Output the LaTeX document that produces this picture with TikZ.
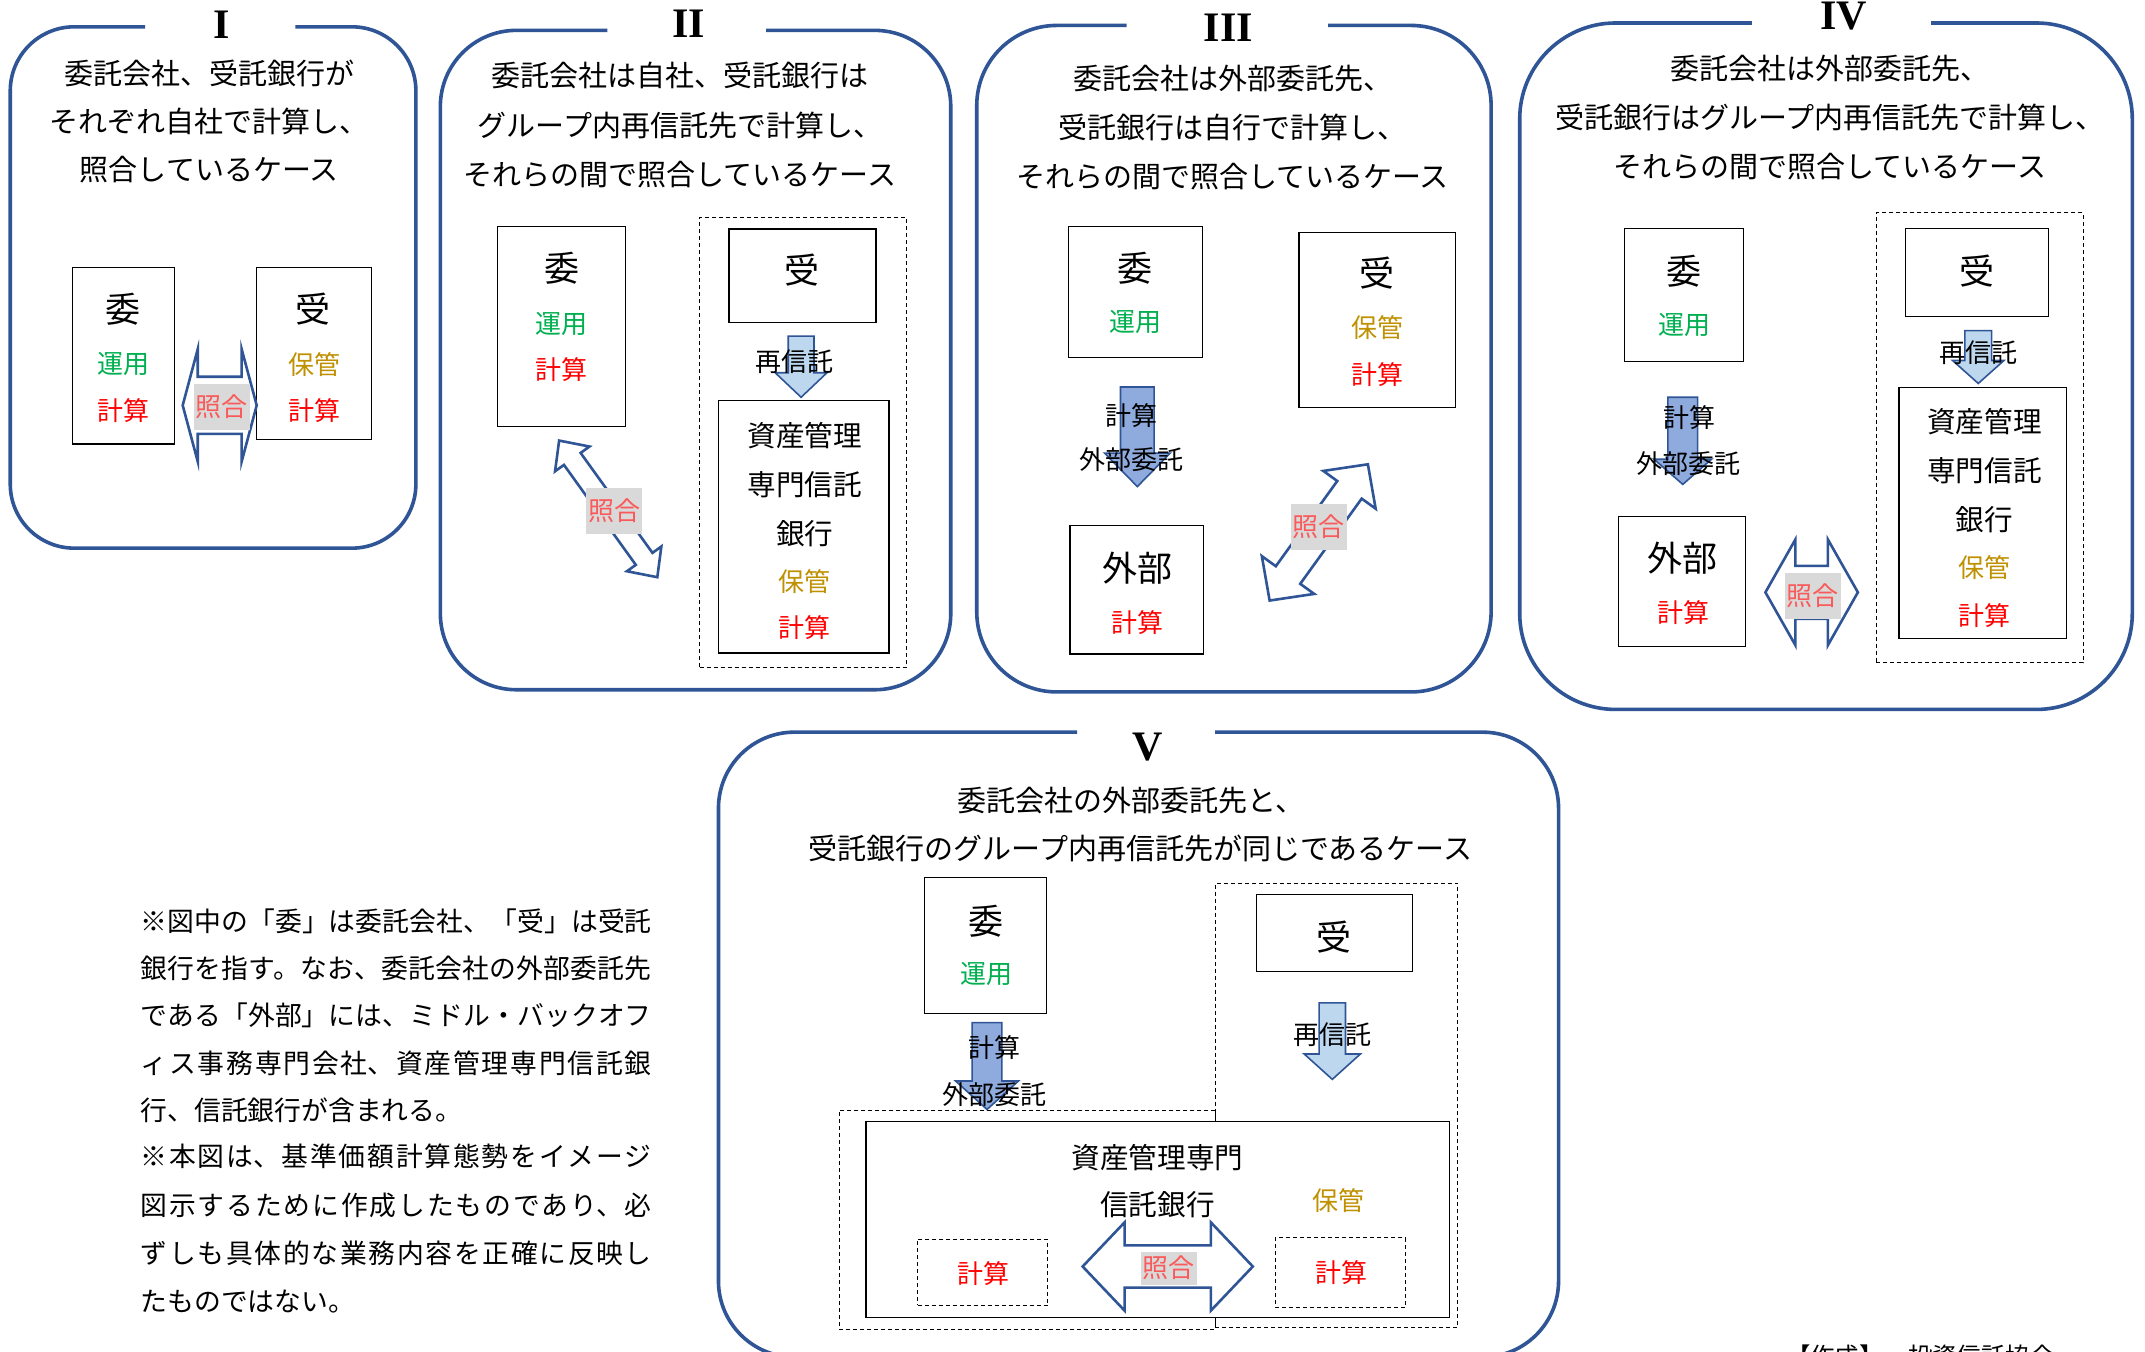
\documentclass[tikz,border=0pt]{standalone}
\usepackage{fontspec}
\setmainfont{Noto Sans CJK JP}
\newfontfamily\rom{Liberation Serif}
\usetikzlibrary{fit}
\definecolor{pblue}{RGB}{47,85,151}
\definecolor{mblue}{RGB}{143,170,220}
\definecolor{lblue}{RGB}{189,215,238}
\definecolor{cgreen}{RGB}{0,176,80}
\definecolor{cgold}{RGB}{191,144,0}
\definecolor{cred}{RGB}{255,0,0}
\definecolor{cpink}{RGB}{250,90,90}
\definecolor{cgray}{RGB}{217,217,217}
\newcommand{\dblarr}[8]{%
 \begin{scope}[shift={(#2,#3)},rotate=#4]
 \draw[dbl] (-#5,0) -- (-#5+#8,-#7) -- (-#5+#8,-#6) -- (#5-#8,-#6) -- (#5-#8,-#7) -- (#5,0) -- (#5-#8,#7) -- (#5-#8,#6) -- (-#5+#8,#6) -- (-#5+#8,#7) -- cycle;
 \coordinate (#1) at (0,0);
 \end{scope}}
\newcommand{\downarr}[8]{%
 \draw[darr, fill=#8] (#2-#6,#3) -- (#2+#6,#3) -- (#2+#6,#4) -- (#2+#7,#4) -- (#2,#5) -- (#2-#7,#4) -- (#2-#6,#4) -- cycle;
 \coordinate (#1) at (#2,#3);}
\newcommand{\notej}[1]{\parbox{255.6pt}{\XeTeXlinebreaklocale "ja"\XeTeXlinebreakskip=0pt plus 3pt\relax\parfillskip=0pt #1}}
\begin{document}
\begin{tikzpicture}[x=0.684pt,y=-0.684pt,
 panelline/.style={draw=pblue, line width=1.8pt},
 ttl/.style={font=\rom\bfseries\fontsize{21}{21}\selectfont, anchor=base, inner sep=0pt},
 desc/.style={font=\fontsize{14.5}{14.5}\selectfont, inner sep=0pt},
 bigc/.style={font=\fontsize{17.5}{17.5}\selectfont, inner sep=0pt},
 serifbox/.style={font=\fontsize{14.3}{14.3}\selectfont, inner sep=0pt},
 lab/.style={font=\fontsize{13}{13}\selectfont, inner sep=0pt},
 unyo/.style={lab, text=cgreen},
 keisan/.style={lab, text=cred},
 hokan/.style={lab, text=cgold},
 blk/.style={lab, text=black},
 box/.style={draw=black, line width=0.6pt, inner sep=0pt},
 dbox/.style={draw=black, line width=0.5pt, dash pattern=on 2pt off 1.5pt, inner sep=0pt},
 shogo/.style={font=\fontsize{13}{13}\selectfont, text=cpink, fill=cgray, inner xsep=1pt, inner ysep=0pt, minimum height=23pt},
 dbl/.style={draw=pblue, line width=1.3pt, fill=white, line join=miter},
 darr/.style={draw=pblue, line width=0.8pt},
 note/.style={font=\fontsize{13.4}{16}\selectfont, inner sep=0pt, anchor=west}
]
\fill[white] (0,0) rectangle (1568,988);
\useasboundingbox (0,0) rectangle (1568,988);

% ---------------- Panel I ----------------
\draw[panelline, rounded corners=32pt] (216,19.6) -- (304,19.6) -- (304,400.7) -- (7.5,400.7) -- (7.5,19.6) -- (106,19.6);
\node[ttl] (t1) at (162,28.2) {I};
\node[desc] (d1a) at (153,53.5) {委託会社、受託銀行が};
\node[desc] (d1b) at (153,88.8) {それぞれ自社で計算し、};
\node[desc] (d1c) at (153,124) {照合しているケース};
\node[box, fit={(53.1,195.8) (127.4,324.5)}] (b1i) {};
\node[bigc] (b1ic) at (90.1,225.8) {委};
\node[unyo] (b1iu) at (90.1,266.3) {運用};
\node[keisan] (b1ik) at (90.1,300.2) {計算};
\node[box, fit={(187.6,195.8) (271.7,321.1)}] (b1j) {};
\node[bigc] (b1jc) at (229,225.8) {受};
\node[hokan] (b1jh) at (229.6,266.3) {保管};
\node[keisan] (b1jk) at (230,300.2) {計算};
\dblarr{a1}{160.6}{296.3}{0}{27.05}{20.9}{41.1}{11}
\node[shogo] (s1) at (162,297.6) {照合};

% ---------------- Panel II ----------------
\draw[panelline, rounded corners=38pt] (560,22.2) -- (695,22.2) -- (695,504.2) -- (321.9,504.2) -- (321.9,22.2) -- (444,22.2);
\node[ttl] (t2) at (503.2,27.7) {II};
\node[desc] (d2a) at (497,55.5) {委託会社は自社、受託銀行は};
\node[desc] (d2b) at (497,91.4) {グループ内再信託先で計算し、};
\node[desc] (d2c) at (497,127.3) {それらの間で照合しているケース};
\node[box, fit={(363.7,165.8) (457.3,311.6)}] (b2i) {};
\node[bigc] (b2ic) at (410.8,195.8) {委};
\node[unyo] (b2iu) at (410.8,236.6) {運用};
\node[keisan] (b2ik) at (410.8,270.2) {計算};
\node[dbox, fit={(511.5,158.9) (662.5,487.9)}] (g2) {};
\node[box, fit={(532.9,167.4) (640.4,235.6)}] (b2j) {};
\node[bigc] (b2jc) at (586.3,197.4) {受};
\downarr{r2}{585.6}{245.7}{272.5}{290.4}{9.4}{18.9}{lblue}
\node[blk] (r2t) at (580.7,264.3) {再信託};
\node[box, fit={(525.3,292.7) (649.9,477.4)}] (b2s) {};
\node[serifbox] (b2s1) at (588.2,318.2) {資産管理};
\node[serifbox] (b2s2) at (588.2,354) {専門信託};
\node[serifbox] (b2s3) at (588.2,390) {銀行};
\node[hokan] (b2sh) at (588.2,425.2) {保管};
\node[keisan] (b2sk) at (588.2,458.5) {計算};
\dblarr{a2}{444.6}{372}{-54.3}{61.5}{7.5}{15.5}{16.5}
\node[shogo] (s2) at (449,373.6) {照合};

% ---------------- Panel III ----------------
\draw[panelline, rounded corners=40pt] (970.9,18.6) -- (1090,18.6) -- (1090,505.8) -- (714,505.8) -- (714,18.6) -- (823.6,18.6);
\node[ttl] (t3) at (897.9,30) {III};
\node[desc] (d3a) at (901,57.1) {委託会社は外部委託先、};
\node[desc] (d3b) at (901,93) {受託銀行は自行で計算し、};
\node[desc] (d3c) at (901,128.9) {それらの間で照合しているケース};
\node[box, fit={(780.9,165.4) (879.2,261.1)}] (b3i) {};
\node[bigc] (b3ic) at (829.9,195.8) {委};
\node[unyo] (b3iu) at (829.9,235.6) {運用};
\downarr{k3}{831.4}{282.9}{331.2}{355.7}{12.3}{24}{mblue}
\node[blk] (k3a) at (827.4,303.5) {計算};
\node[blk] (k3b) at (827.4,336.1) {外部委託};
\node[box, fit={(782.1,384.1) (879.5,478.1)}] (b3g) {};
\node[bigc] (b3gc) at (831.2,415.1) {外部};
\node[keisan] (b3gk) at (831.7,455.2) {計算};
\node[box, fit={(949.5,169.7) (1064,297.6)}] (b3j) {};
\node[bigc] (b3jc) at (1006.9,199.7) {受};
\node[hokan] (b3jh) at (1006.9,239.8) {保管};
\node[keisan] (b3jk) at (1006.9,274.1) {計算};
\dblarr{a3}{964}{389.2}{54.2}{61.4}{11}{23.6}{23}
\node[shogo] (s3) at (964.1,385.1) {照合};

% ---------------- Panel IV ----------------
\draw[panelline, rounded corners=48pt] (1411.6,16.8) -- (1558.7,16.8) -- (1558.7,518.6) -- (1110.9,518.6) -- (1110.9,16.8) -- (1280.6,16.8);
\node[ttl] (t4) at (1347.6,21.8) {IV};
\node[desc] (d4a) at (1337.5,50.4) {委託会社は外部委託先、};
\node[desc] (d4b) at (1337.5,85.6) {受託銀行はグループ内再信託先で計算し、};
\node[desc] (d4c) at (1337.5,121.5) {それらの間で照合しているケース};
\node[box, fit={(1187.3,167.2) (1274.5,264.5)}] (b4i) {};
\node[bigc] (b4ic) at (1231.2,198) {委};
\node[unyo] (b4iu) at (1231.2,237.3) {運用};
\downarr{k4}{1230.1}{290.4}{335.7}{354.1}{10.9}{21}{mblue}
\node[blk] (k4a) at (1234.8,305.5) {計算};
\node[blk] (k4b) at (1234.2,339) {外部委託};
\node[box, fit={(1183.1,377.6) (1276,472.3)}] (b4g) {};
\node[bigc] (b4gc) at (1229.8,407.8) {外部};
\node[keisan] (b4gk) at (1230.9,448.1) {計算};
\dblarr{a4}{1324.3}{433}{0}{33.8}{19.3}{38.6}{21.9}
\node[shogo] (s4) at (1325.1,435.7) {照合};
\node[dbox, fit={(1371.6,155.4) (1522.9,484.4)}] (g4) {};
\node[box, fit={(1392.7,167.2) (1497.4,231.6)}] (b4j) {};
\node[bigc] (b4jc) at (1445.3,198) {受};
\downarr{r4}{1446.1}{241.7}{263.5}{280.3}{9.8}{18.8}{lblue}
\node[blk] (r4t) at (1445.9,257.8) {再信託};
\node[box, fit={(1388.2,283) (1510.6,466.6)}] (b4s) {};
\node[serifbox] (b4s1) at (1450.7,308.1) {資産管理};
\node[serifbox] (b4s2) at (1450.7,344.1) {専門信託};
\node[serifbox] (b4s3) at (1450.7,380) {銀行};
\node[hokan] (b4sh) at (1450.7,414.6) {保管};
\node[keisan] (b4sk) at (1450.7,449.8) {計算};

% ---------------- Panel V ----------------
\draw[panelline, rounded corners=38pt] (888.3,535.2) -- (1139.3,535.2) -- (1139.3,992) -- (525.2,992) -- (525.2,535.2) -- (787.4,535.2);
\node[ttl] (t5) at (838.7,555.7) {V};
\node[desc] (d5a) at (826.5,585.1) {委託会社の外部委託先と、};
\node[desc] (d5b) at (833.8,620.5) {受託銀行のグループ内再信託先が同じであるケース};
\node[box, fit={(675.8,641.6) (765.2,741.1)}] (b5i) {};
\node[bigc] (b5ic) at (720.9,673.4) {委};
\node[unyo] (b5iu) at (720.9,712.2) {運用};
\node[dbox, fit={(613.5,811.6) (888.3,971.9)}] (g5a) {};
\node[dbox, fit={(888.3,645.5) (1065.5,970.5)}] (g5b) {};
\downarr{k5}{721.5}{747.5}{790.2}{811}{10.85}{23}{mblue}
\node[blk] (k5a) at (727,766.1) {計算};
\node[blk] (k5b) at (727,799.9) {外部委託};
\node[box, fit={(918.6,653.7) (1032.7,710.2)}] (b5j) {};
\node[bigc] (b5jc) at (975.3,685.2) {受};
\downarr{r5}{973.9}{733.1}{770.5}{789}{9.65}{20.5}{lblue}
\node[blk] (r5t) at (974,756.7) {再信託};
\node[box, fill=white, fit={(633.1,819.6) (1059.4,963.2)}] (b5s) {};
\node[serifbox] (b5s1) at (846.1,846.4) {資産管理専門};
\node[serifbox] (b5s2) at (846.1,880.8) {信託銀行};
\node[hokan] (b5sh) at (978.5,877.8) {保管};
\node[dbox, fit={(670.8,905.8) (766,954.3)}] (c5l) {};
\node[keisan] (c5lk) at (718.9,930.8) {計算};
\node[dbox, fit={(932.2,904.9) (1027.3,955.8)}] (c5r) {};
\node[keisan] (c5rk) at (980.6,929.9) {計算};
\dblarr{a5}{853.6}{925.8}{0}{62.2}{15.45}{32.3}{30.7}
\node[shogo, minimum height=16.5pt] (s5) at (854.2,927) {照合};

% ---------------- Notes ----------------
\node[note] (n1) at (102.5,673.7) {\notej{※図中の「委」は委託会社、「受」は受託}};
\node[note] (n2) at (102.5,707.8) {\notej{銀行を指す。なお、委託会社の外部委託先}};
\node[note] (n3) at (102.5,741.9) {\notej{である「外部」には、ミドル・バックオフ}};
\node[note] (n4) at (102.5,777.3) {\notej{ィス事務専門会社、資産管理専門信託銀}};
\node[note] (n5) at (102.5,811.4) {行、信託銀行が含まれる。};
\node[note] (n6) at (102.5,845.5) {\notej{※本図は、基準価額計算態勢をイメージ}};
\node[note] (n7) at (102.5,880.8) {\notej{図示するために作成したものであり、必}};
\node[note] (n8) at (102.5,916.2) {\notej{ずしも具体的な業務内容を正確に反映し}};
\node[note] (n9) at (102.5,951.5) {たものではない。};
\node[font=\fontsize{12.2}{12.2}\selectfont, inner sep=0pt, anchor=base west] (src) at (1305.4,998) {【作成】　投資信託協会};
\end{tikzpicture}
\end{document}
